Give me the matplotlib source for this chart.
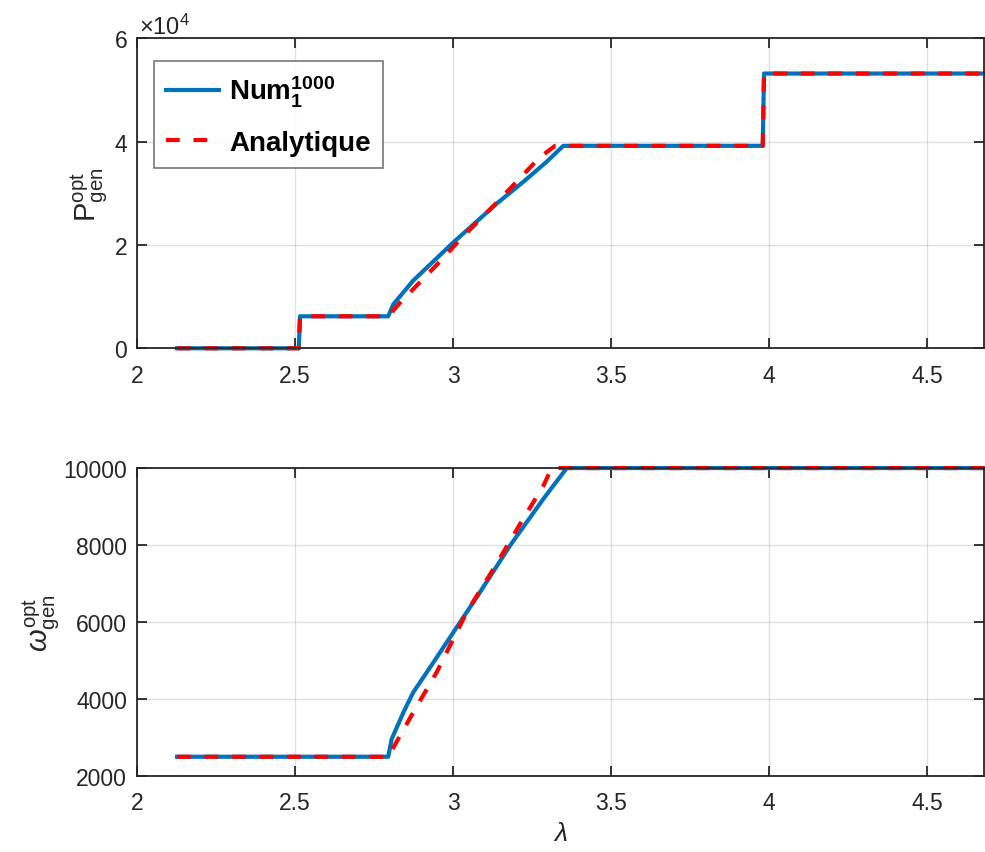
import matplotlib
matplotlib.use('Agg')
import matplotlib.pyplot as plt

plt.rcParams['font.family'] = ['Liberation Sans', 'DejaVu Sans']
plt.rcParams['mathtext.fontset'] = 'custom'
plt.rcParams['mathtext.rm'] = 'Liberation Sans'
plt.rcParams['mathtext.it'] = 'Liberation Sans:italic'
plt.rcParams['mathtext.bf'] = 'Liberation Sans:bold'

# Top panel: generated power (numerical vs analytical)
lam_p_num = [2.127, 2.512, 2.516, 2.795, 2.811, 2.874, 3.001, 3.138, 3.222, 3.296, 3.349, 3.980, 3.984, 4.680]
p_num = [0, 0, 6200, 6200, 8500, 13100, 20500, 28000, 32200, 36100, 39200, 39200, 53200, 53200]
lam_p_ana = [2.127, 2.512, 2.516, 2.795, 2.832, 2.954, 3.017, 3.149, 3.275, 3.323, 3.980, 3.984, 4.680]
p_ana = [0, 0, 6200, 6200, 8800, 16500, 20700, 28900, 37000, 39200, 39200, 53200, 53200]

# Bottom panel: generator speed
lam_w_num = [2.127, 2.795, 2.806, 2.843, 2.874, 2.938, 3.001, 3.085, 3.180, 3.286, 3.360, 4.680]
w_num = [2500, 2500, 2960, 3650, 4170, 4950, 5730, 6770, 7980, 9200, 10000, 10000]
lam_w_ana = [2.127, 2.795, 2.874, 2.948, 3.043, 3.128, 3.222, 3.286, 3.312, 4.680]
w_ana = [2500, 2500, 3650, 4690, 6250, 7380, 8680, 9540, 10000, 10000]

x_ticks = [2, 2.5, 3, 3.5, 4, 4.5]
x_labels = ['2', '2.5', '3', '3.5', '4', '4.5']
p_ticks = [0, 20000, 40000, 60000]
p_labels = ['0', '2', '4', '6']
w_ticks = [2000, 4000, 6000, 8000, 10000]

BLUE = '#0072BD'
RED = '#FF0000'
DARK = '#262626'

fig = plt.figure(figsize=(9.85, 8.53), dpi=100)
ax1 = fig.add_axes([0.139, 0.5905, 0.860, 0.3633])
ax2 = fig.add_axes([0.139, 0.0891, 0.860, 0.3610])


def style_axes(ax):
    ax.set_xlim(2, 4.68)
    ax.set_xticks(x_ticks)
    ax.set_xticklabels(x_labels)
    ax.grid(True, color='#000000', alpha=0.12, linewidth=1.0)
    ax.set_axisbelow(True)
    ax.tick_params(direction='in', length=7, width=1.3, colors=DARK,
                   labelsize=16.5, top=True, right=True)
    ax.tick_params(axis='x', pad=11)
    ax.tick_params(axis='y', pad=7)
    for s in ax.spines.values():
        s.set_color(DARK)
        s.set_linewidth(1.3)


ax1.plot(lam_p_num, p_num, color=BLUE, lw=3.0, clip_on=False,
         label=r'$\mathbf{Num}_{\mathbf{1}}^{\mathbf{1000}}$')
ax1.plot(lam_p_ana, p_ana, color=RED, lw=3.0, dashes=(3.3, 3.3), clip_on=False,
         label='Analytique')
style_axes(ax1)
ax1.set_ylim(0, 60000)
ax1.set_yticks(p_ticks)
ax1.set_yticklabels(p_labels)
ax1.text(0.002, 1.016, r'$\times\mathregular{10}^{\mathregular{4}}$', transform=ax1.transAxes,
         fontsize=17, color=DARK, ha='left', va='baseline')
ax1.set_ylabel(r'P$^{\mathrm{opt}}_{\mathrm{gen}}$', fontsize=21, color=DARK, labelpad=4)
leg = ax1.legend(loc='upper left', bbox_to_anchor=(0.02, 0.927), borderaxespad=0,
                 prop={'size': 20, 'weight': 'bold'}, fancybox=False,
                 edgecolor='#555555', handlelength=1.9, labelspacing=0.75,
                 borderpad=0.45, handletextpad=0.35)
leg.get_frame().set_linewidth(1.2)

ax2.plot(lam_w_num, w_num, color=BLUE, lw=3.0, clip_on=False)
ax2.plot(lam_w_ana, w_ana, color=RED, lw=3.0, dashes=(3.3, 3.3), clip_on=False)
style_axes(ax2)
ax2.set_ylim(2000, 10000)
ax2.set_yticks(w_ticks)
ax2.set_ylabel(r'$\omega^{\mathrm{opt}}_{\mathrm{gen}}$', fontsize=21, color=DARK, labelpad=2)
ax2.set_xlabel(r'$\lambda$', fontsize=19, color=DARK, labelpad=5)

fig.savefig('out.png', dpi=100, facecolor='white')
